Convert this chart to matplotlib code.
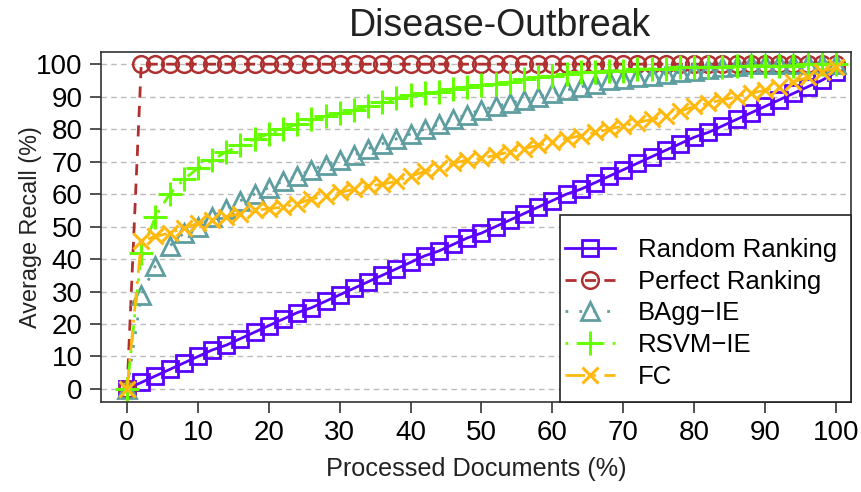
import matplotlib
matplotlib.use("Agg")
import matplotlib.pyplot as plt
from matplotlib.patches import Rectangle

plt.rcParams['font.family'] = ['Liberation Sans', 'DejaVu Sans']

x = [0, 2, 4, 6, 8, 10, 12, 14, 16, 18, 20, 22, 24, 26, 28, 30, 32, 34, 36, 38, 40,
     42, 44, 46, 48, 50, 52, 54, 56, 58, 60, 62, 64, 66, 68, 70, 72, 74, 76, 78, 80,
     82, 84, 86, 88, 90, 92, 94, 96, 98, 100]

random_rank = [0, 2, 4, 6, 8, 10, 12, 13.5, 15.5, 17.5, 19.5, 21.5, 23.5, 25, 27, 29, 31, 33, 35, 37, 39,
               41, 42.5, 44.5, 46.5, 48, 50, 52, 54, 56, 58, 60, 61.5, 63.5, 65.5, 67.5, 69.5, 71.5, 73.5, 75.5, 77.5,
               79, 81, 83, 85, 87, 89, 91, 93, 95, 97.5]

perfect_rank = [0] + [100] * 50

bagg_ie = [0, 29, 38, 44, 48, 50, 53, 55.5, 58, 60, 62, 64, 65.5, 67.5, 69, 70.5, 72, 74, 75.5, 77, 78.5,
           80, 81.5, 83, 84.5, 86, 87, 88, 89, 90, 91, 92, 93, 94, 95, 95.5, 96, 96.5, 97, 97.5, 98,
           98.5, 99, 99.5, 100, 100, 100, 100, 100, 100, 100]

rsvm_ie = [0, 42, 53, 60, 64.5, 68, 70.5, 73, 75, 77, 78.5, 80, 81.5, 83, 84, 85, 86, 87, 88.5, 89.5, 90.5,
           91, 91.5, 92.5, 93, 93.5, 94, 94.5, 95.5, 96, 96.5, 97, 97.5, 97.5, 98, 98, 98.5, 98.5, 98.5, 99, 99,
           99, 99, 99.5, 99.5, 99.5, 99.5, 99.5, 100, 100, 100]

fc = [0, 45.5, 47, 48, 49.5, 51, 52, 53, 54, 55, 55.5, 56, 57, 58.5, 59.5, 60.5, 61.5, 62.5, 63, 64, 65.5,
      67, 68, 69.5, 70.5, 71, 72, 73, 74, 75, 76, 77, 78, 79, 80, 81, 82, 83, 84, 85.5, 87,
      88, 89, 90, 91, 92, 93, 94.5, 96, 97.5, 99]

xticks = [0, 10, 20, 30, 40, 50, 60, 70, 80, 90, 100]
yticks = [0, 10, 20, 30, 40, 50, 60, 70, 80, 90, 100]

fig = plt.figure(figsize=(8.62, 4.92), dpi=100)
ax = fig.add_axes([0.117, 0.183, 0.870, 0.711])

ax.set_xlim(-3.7, 102.1)
ax.set_ylim(-4.0, 103.7)

for yv in yticks:
    ax.axhline(yv, color='#bbbbbb', lw=1.0, ls=(0, (4, 3)), zorder=0)

ax.plot(x, random_rank, color='#5a00ff', lw=2.0, ls='-', marker='s', ms=11,
        mfc='none', mew=2.0, label='Random Ranking')
ax.plot(x, perfect_rank, color='#b03030', lw=2.0, ls=(0, (4, 3)), marker='o', ms=12,
        mfc='none', mew=1.8, label='Perfect Ranking')
ax.plot(x, bagg_ie, color='#5f9ea0', lw=2.0, ls=(0, (1, 4)), marker='^', ms=13,
        mfc='none', mew=2.0, label='BAgg\u2212IE')
ax.plot(x, rsvm_ie, color='#66ff00', lw=2.0, ls=(0, (1, 3, 6, 3)), marker='+', ms=17,
        mew=2.2, label='RSVM\u2212IE')
ax.plot(x, fc, color='#ffb90f', lw=2.0, ls=(0, (7, 3, 1, 3)), marker='x', ms=12,
        mew=2.2, label='FC')

ax.set_xticks(xticks)
ax.set_yticks(yticks)
ax.tick_params(axis='both', direction='out', length=8, width=1.2, color='#333333',
               labelsize=20, pad=5)
for s in ax.spines.values():
    s.set_color('#333333')
    s.set_linewidth(1.2)

ax.set_xlabel('Processed Documents (%)', fontsize=18.2, labelpad=8, color='#222222')
ax.set_ylabel('Average Recall (%)', fontsize=16.8, color='#222222')
ax.yaxis.set_label_coords(-0.079, 0.5)
fig.text(500 / 862, 1 - 26 / 492, 'Disease-Outbreak', fontsize=27, color='#222222',
         ha='center', va='center')

# legend frame (lower right corner, flush with axes)
frame = Rectangle((0.612, 0.0), 0.388, 0.534, transform=ax.transAxes,
                  facecolor='white', edgecolor='#222222', lw=1.2, zorder=5,
                  clip_on=False)
ax.add_patch(frame)

leg = ax.legend(loc='upper left', bbox_to_anchor=(0.619, 0.469), fontsize=18.5,
                frameon=False, borderaxespad=0.0, borderpad=0.0,
                handlelength=1.95, labelspacing=0.3, handletextpad=0.9)
leg.set_zorder(6)

fig.savefig('out.png', dpi=100)
